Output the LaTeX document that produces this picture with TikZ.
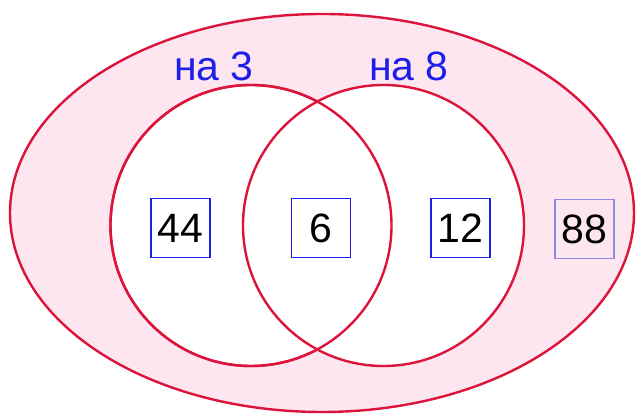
\documentclass[tikz,border=0pt]{standalone}
\usepackage{fontspec}
\setmainfont{Liberation Sans}
\usetikzlibrary{shapes.geometric, positioning}
\definecolor{vred}{RGB}{220,20,60}
\definecolor{vpink}{RGB}{253,230,240}
\definecolor{vblue}{RGB}{30,30,235}
\definecolor{vlblue}{RGB}{140,140,230}

\begin{document}
\begin{tikzpicture}[x=1pt, y=1pt,
    set/.style={draw=vred, line width=2.4pt, inner sep=0pt},
    numbox/.style={draw=vblue, line width=1.2pt, minimum size=59pt, inner sep=0pt, font=\fontsize{41}{41}\selectfont},
    setlabel/.style={text=vblue, inner sep=0pt, font=\fontsize{41}{41}\selectfont}]
    \useasboundingbox (0,0) rectangle (636,414);
    \node[set, ellipse, fill=vpink, minimum width=624pt, minimum height=398pt] (all) at (322,201) {};
    \node[set, circle, fill=white, minimum size=281pt] (three) at (251,188.5) {};
    \node[set, circle, fill=white, minimum size=281pt] (eight) at (383.5,188.5) {};
    % the left circle is drawn again so both rims show inside the lens
    \draw[vred, line width=2.4pt] (three.center) circle[radius=140.5];
    \node[setlabel] (lthree) at (214,348) {на 3};
    \node[setlabel] (leight) at (409,348) {на 8};
    \node[numbox] (only3) at (180.5,186) {44};
    \node[numbox] (both) at (321,186) {6};
    \node[numbox] (only8) at (460.5,186) {12};
    \node[numbox, draw=vlblue] (rest) at (584.5,185) {88};
\end{tikzpicture}
\end{document}
